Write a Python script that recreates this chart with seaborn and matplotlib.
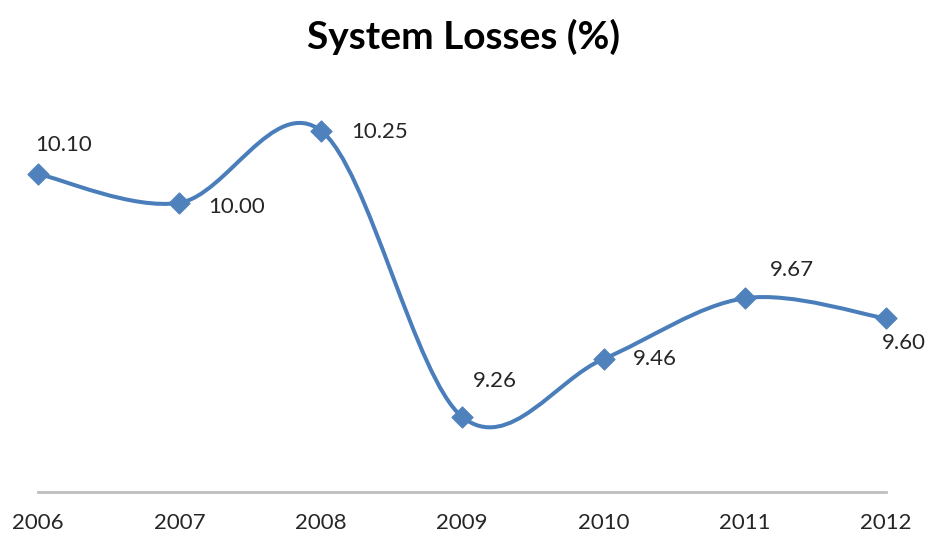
import matplotlib
matplotlib.use("Agg")
import matplotlib.pyplot as plt
from matplotlib.path import Path
from matplotlib.patches import PathPatch
import seaborn as sns
import pandas as pd

years = ["2006", "2007", "2008", "2009", "2010", "2011", "2012"]
losses = [10.10, 10.00, 10.25, 9.26, 9.46, 9.67, 9.60]
labels = ["10.10", "10.00", "10.25", "9.26", "9.46", "9.67", "9.60"]
# label offsets in points (dx, dy) relative to each marker
offsets = [(-2, 21), (21, -3), (22, -1), (8, 26), (21, 0), (18, 20), (-3, -18)]

df = pd.DataFrame({"year": years, "loss": losses})
df["pos"] = range(len(years))

sns.set_style("white")
plt.rcParams["font.family"] = ["Lato", "DejaVu Sans"]

fig = plt.figure(figsize=(9.28, 5.38), dpi=100)
ax = fig.add_axes([0.041, 0.0855, 0.914, 0.7525])

blue = "#4A7EBB"

# smooth line (Excel style bezier through the points)
xs = list(df["pos"])
ys = list(df["loss"])
n = len(xs)
verts = [(xs[0], ys[0])]
codes = [Path.MOVETO]
for i in range(n - 1):
    p0 = (xs[max(i - 1, 0)], ys[max(i - 1, 0)])
    p1 = (xs[i], ys[i])
    p2 = (xs[i + 1], ys[i + 1])
    p3 = (xs[min(i + 2, n - 1)], ys[min(i + 2, n - 1)])
    c1 = (p1[0] + (p2[0] - p0[0]) / 6, p1[1] + (p2[1] - p0[1]) / 6)
    c2 = (p2[0] - (p3[0] - p1[0]) / 6, p2[1] - (p3[1] - p1[1]) / 6)
    verts += [c1, c2, p2]
    codes += [Path.CURVE4] * 3
ax.add_patch(PathPatch(Path(verts, codes), facecolor="none", edgecolor=blue,
                       lw=2.9, capstyle="round", zorder=2, clip_on=False))

sns.scatterplot(data=df, x="pos", y="loss", marker="D", s=115, color="#4F81BD",
                edgecolor="#4F81BD", ax=ax, zorder=3, clip_on=False)

for x, y, lab, (dx, dy) in zip(xs, ys, labels, offsets):
    ax.annotate(lab, (x, y), xytext=(dx, dy), textcoords="offset points",
                ha="left", va="center", fontsize=16, color="#262626")

ax.set_xlim(0, 6)
ax.set_ylim(9.0, 10.4)
ax.set_xticks(range(len(years)))
ax.set_xticklabels(years, fontsize=16, color="#262626")
ax.set_yticks([])
ax.set_xlabel("")
ax.set_ylabel("")
ax.tick_params(axis="x", length=0, pad=15)
for side in ["top", "right", "left"]:
    ax.spines[side].set_visible(False)
ax.spines["bottom"].set_color("#BFBFBF")
ax.spines["bottom"].set_linewidth(2)

fig.suptitle("System Losses (%)", fontsize=28, fontweight="bold", y=0.965, color="black")

fig.savefig("out.png", dpi=100)
